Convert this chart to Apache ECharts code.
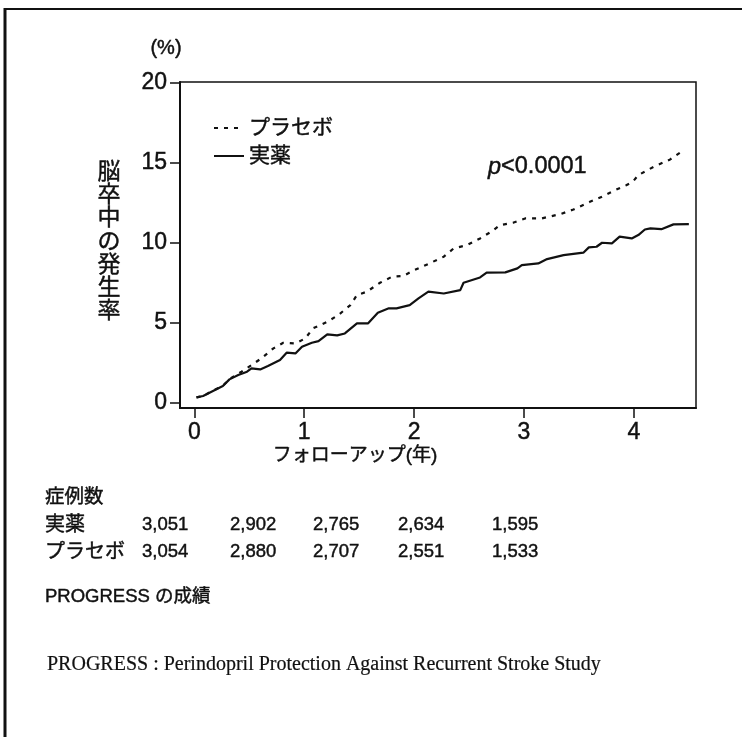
<!DOCTYPE html>
<html>
<head>
<meta charset="utf-8">
<script src="https://cdn.jsdelivr.net/npm/echarts@6/dist/echarts.min.js"></script>
<style>
  html, body { margin: 0; padding: 0; background: #fff; }
  #chart { width: 742px; height: 737px; }
</style>
</head>
<body>
<div id="chart"></div>
<script>
// Follow-up time (years) and cumulative stroke incidence (%)
const placeboX = [0.02, 0.08, 0.17, 0.26, 0.32, 0.43, 0.52, 0.61, 0.72, 0.81, 0.92, 1.01, 1.08, 1.21, 1.31, 1.42, 1.48, 1.57, 1.69, 1.80, 1.90, 1.99, 2.14, 2.27, 2.36, 2.48, 2.60, 2.71, 2.78, 2.90, 3.01, 3.16, 3.33, 3.45, 3.60, 3.71, 3.81, 3.93, 3.99, 4.04, 4.18, 4.33, 4.46];
const placeboY = [0.33, 0.42, 0.75, 1.06, 1.48, 1.94, 2.35, 2.77, 3.40, 3.75, 3.71, 4.02, 4.65, 5.06, 5.48, 6.10, 6.73, 6.94, 7.50, 7.88, 7.92, 8.25, 8.71, 9.13, 9.65, 9.85, 10.27, 10.73, 11.10, 11.25, 11.52, 11.52, 11.79, 12.08, 12.56, 12.88, 13.23, 13.60, 13.81, 14.23, 14.75, 15.21, 15.82];

const activeX = [0.02, 0.08, 0.17, 0.26, 0.32, 0.40, 0.48, 0.52, 0.60, 0.67, 0.78, 0.84, 0.92, 0.98, 1.07, 1.13, 1.21, 1.30, 1.37, 1.48, 1.58, 1.67, 1.77, 1.84, 1.96, 2.04, 2.13, 2.27, 2.42, 2.45, 2.60, 2.66, 2.83, 2.94, 2.98, 3.13, 3.21, 3.36, 3.54, 3.59, 3.66, 3.71, 3.80, 3.87, 3.98, 4.04, 4.10, 4.15, 4.25, 4.36, 4.50];
const activeY = [0.33, 0.42, 0.73, 1.04, 1.46, 1.73, 1.94, 2.15, 2.08, 2.29, 2.67, 3.13, 3.08, 3.50, 3.75, 3.85, 4.27, 4.21, 4.33, 4.96, 4.96, 5.63, 5.90, 5.90, 6.10, 6.52, 6.94, 6.83, 7.04, 7.50, 7.83, 8.13, 8.15, 8.40, 8.60, 8.71, 8.98, 9.23, 9.38, 9.71, 9.75, 10.00, 9.96, 10.38, 10.27, 10.48, 10.83, 10.90, 10.85, 11.15, 11.17];

// Axis ticks
const xTicks = [0, 1, 2, 3, 4];
const yTicks = [0, 5, 10, 15, 20];

// Number of patients at risk
const riskLabels = ['実薬', 'プラセボ'];
const activeCounts = ['3,051', '2,902', '2,765', '2,634', '1,595'];
const placeboCounts = ['3,054', '2,880', '2,707', '2,551', '1,533'];

const seriesNames = ['プラセボ', '実薬'];

const SANS = '"Liberation Sans", "Noto Sans CJK JP", sans-serif';
const SERIF = '"Liberation Serif", "DejaVu Serif", serif';
const INK = '#111';
const HEAVY = 0.45; // faint outline to give the printed type some weight

function pairs(xs, ys) { return xs.map((x, i) => [x, ys[i]]); }

// Table column positions and row centres (layout only)
const colX = [142, 230, 313, 398, 492];
const rowY = [525, 552];

const graphics = [];
// page frame
graphics.push({ type: 'line', shape: { x1: 5, y1: 9, x2: 742, y2: 9 }, style: { stroke: INK, lineWidth: 2 } });
graphics.push({ type: 'line', shape: { x1: 5, y1: 8, x2: 5, y2: 737 }, style: { stroke: INK, lineWidth: 3 } });

function txt(text, x, y, opts) {
  graphics.push({
    type: 'text', x: x, y: y,
    style: Object.assign({
      text: text, fill: INK, font: '20px ' + SANS, textAlign: 'left', textVerticalAlign: 'middle',
      stroke: INK, lineWidth: HEAVY
    }, opts || {})
  });
}

txt('(%)', 166, 48, { textAlign: 'center', font: '20px ' + SANS });
txt('脳卒中の発生率'.split('').join('\n'), 109, 161, { textAlign: 'center', textVerticalAlign: 'top', font: '23px ' + SANS, lineHeight: 23.2 });
txt('フォローアップ(年)', 355, 456, { textAlign: 'center', font: '19px ' + SANS });

graphics.push({
  type: 'text', x: 488, y: 167,
  style: {
    text: '{i|p}<0.0001', fill: INK, textVerticalAlign: 'middle',
    font: '23.5px ' + SANS, stroke: INK, lineWidth: HEAVY,
    rich: { i: { fontStyle: 'italic', fontSize: 23.5, fontFamily: SANS, fill: INK } }
  }
});

txt('症例数', 45, 498, { font: '19.5px ' + SANS });
txt(riskLabels[0], 45, rowY[0], { font: '20px ' + SANS });
txt(riskLabels[1], 45, rowY[1], { font: '20px ' + SANS });
activeCounts.forEach((c, i) => txt(c, colX[i], rowY[0], { font: '18.5px ' + SANS }));
placeboCounts.forEach((c, i) => txt(c, colX[i], rowY[1], { font: '18.5px ' + SANS }));

txt('PROGRESS の成績', 45, 597, { font: '18.5px ' + SANS });
txt('PROGRESS : Perindopril Protection Against Recurrent Stroke Study', 47, 665, { font: '20px ' + SERIF, lineWidth: 0.2 });

const axisText = {
  color: INK, fontSize: 23, fontFamily: SANS, margin: 13,
  textBorderColor: INK, textBorderWidth: HEAVY
};

const chart = echarts.init(document.getElementById('chart'), null, { renderer: 'canvas' });
chart.setOption({
  backgroundColor: '#fff',
  animation: false,
  grid: {
    left: 180, right: 46, top: 82, bottom: 329,
    containLabel: false, outerBoundsMode: 'none',
    show: true, borderColor: INK, borderWidth: 1.5, backgroundColor: 'transparent'
  },
  legend: {
    orient: 'vertical', left: 208, top: 112,
    data: seriesNames,
    itemWidth: 30, itemHeight: 14, itemGap: 6,
    itemStyle: { opacity: 0 },
    textStyle: { color: INK, fontSize: 21, fontFamily: SANS, lineHeight: 22, textBorderColor: INK, textBorderWidth: HEAVY }
  },
  xAxis: {
    type: 'value', min: -0.13, max: 4.565,
    axisLine: { show: true, onZero: false, lineStyle: { color: INK, width: 2 } },
    axisTick: { show: true, length: 10, customValues: xTicks, lineStyle: { color: INK, width: 1.5 } },
    axisLabel: Object.assign({ customValues: xTicks }, axisText),
    splitLine: { show: false }
  },
  yAxis: {
    type: 'value', min: -0.33, max: 20.05,
    axisLine: { show: true, onZero: false, lineStyle: { color: INK, width: 2 } },
    axisTick: { show: true, length: 10, customValues: yTicks, lineStyle: { color: INK, width: 1.5 } },
    axisLabel: Object.assign({ customValues: yTicks }, axisText),
    splitLine: { show: false }
  },
  series: [
    {
      name: seriesNames[0], type: 'line', data: pairs(placeboX, placeboY),
      symbol: 'none', smooth: false, z: 3,
      lineStyle: { color: INK, width: 2.2, type: [4, 6] },
      itemStyle: { color: INK }
    },
    {
      name: seriesNames[1], type: 'line', data: pairs(activeX, activeY),
      symbol: 'none', smooth: false, z: 4,
      lineStyle: { color: INK, width: 2.2, type: 'solid' },
      itemStyle: { color: INK }
    }
  ],
  graphic: graphics
});
</script>
</body>
</html>
